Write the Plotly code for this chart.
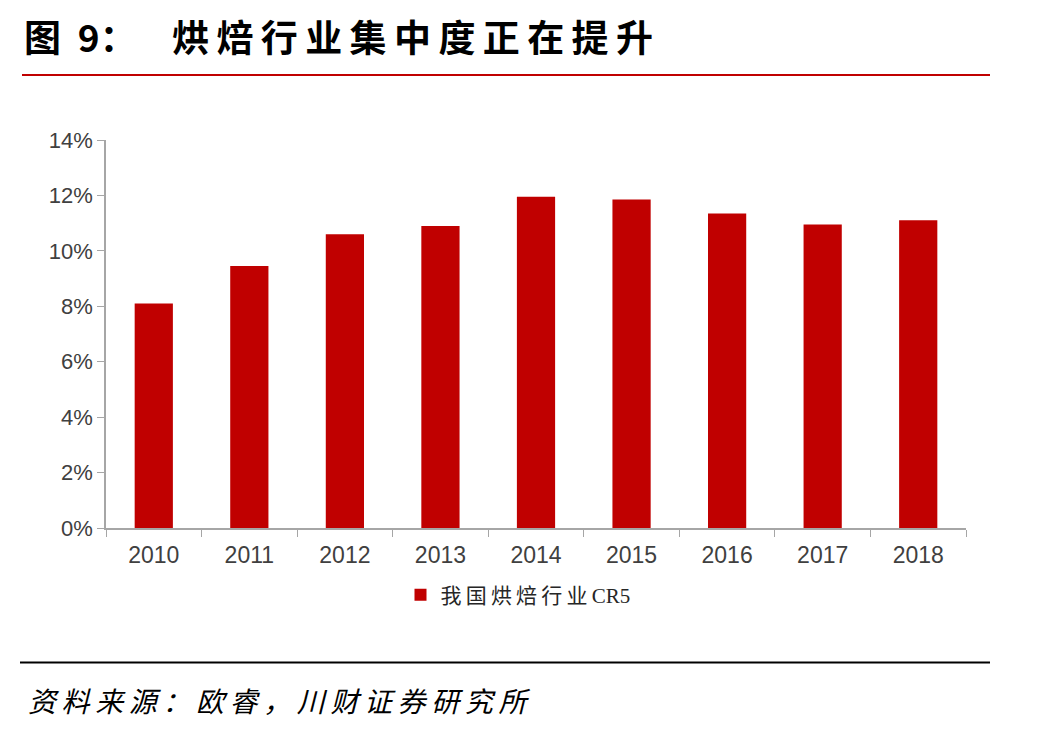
import plotly.graph_objects as go

years = ["2010", "2011", "2012", "2013", "2014", "2015", "2016", "2017", "2018"]
cr5 = [8.1, 9.45, 10.6, 10.9, 11.95, 11.85, 11.35, 10.95, 11.1]
y_ticks = [0, 2, 4, 6, 8, 10, 12, 14]
y_tick_labels = ["0%", "2%", "4%", "6%", "8%", "10%", "12%", "14%"]
series_name = "我国烘焙行业CR5"
title_prefix = "图\u00a0\u00a09："
title_main = "烘焙行业集中度正在提升"
source_text = "资料来源：欧睿，川财证券研究所"

TS = "\u2009"  # thin space used as letter spacing


def spaced(s):
    return TS.join(list(s))


W, H = 1060, 732
L, R, T, B = 106, 966, 140, 527.7

fig = go.Figure()
fig.add_trace(go.Bar(
    x=years, y=cr5, name=spaced("我国烘焙行业") + TS + "CR5",
    marker=dict(color="#c00000", line=dict(width=0)),
    width=0.4,
))

axis_font = dict(family="Liberation Sans Narrow, Liberation Sans, Arial", size=22, color="#404040")


def px_x(x):
    return (x - L) / (R - L)


def px_y(y):
    return (B - y) / (B - T)


fig.update_layout(
    width=W, height=H,
    margin=dict(l=L, r=W - R, t=T, b=H - B, pad=0),
    paper_bgcolor="white", plot_bgcolor="white",
    showlegend=True,
    legend=dict(
        orientation="h", x=px_x(518), xanchor="center", y=-0.12, yanchor="top",
        font=dict(family="Liberation Serif, Noto Sans CJK SC", size=21, color="#262626"),
        itemwidth=30,
    ),
    xaxis=dict(
        type="category", showline=True, linecolor="#a6a6a6", linewidth=1.5,
        ticks="outside", tickson="boundaries", ticklen=7, tickcolor="#a6a6a6",
        tickfont=dict(family="Liberation Sans, Arial", size=23, color="#404040"),
        ticklabelstandoff=6,
        showgrid=False,
    ),
    yaxis=dict(
        range=[0, 14], tickvals=y_ticks, ticktext=y_tick_labels,
        showline=True, linecolor="#a6a6a6", linewidth=1.5,
        ticks="outside", ticklen=7, tickcolor="#a6a6a6",
        tickfont=axis_font, showgrid=False, zeroline=False,
    ),
    shapes=[
        dict(type="line", xref="paper", yref="paper",
             x0=px_x(22), x1=px_x(990), y0=px_y(75), y1=px_y(75),
             line=dict(color="#c00000", width=2)),
        dict(type="line", xref="paper", yref="paper",
             x0=px_x(20), x1=px_x(990), y0=px_y(662), y1=px_y(662),
             line=dict(color="black", width=2)),
    ],
    annotations=[
        dict(text="<b>" + title_prefix + "</b>", xref="paper", yref="paper",
             x=px_x(22), y=px_y(36), xanchor="left", yanchor="middle",
             showarrow=False,
             font=dict(family="Noto Sans CJK SC", size=37, color="black")),
        dict(text="<b>" + spaced(title_main) + "</b>", xref="paper", yref="paper",
             x=px_x(170), y=px_y(36), xanchor="left", yanchor="middle",
             showarrow=False,
             font=dict(family="Noto Sans CJK SC", size=37, color="black")),
        dict(text="<i>" + spaced(source_text) + "</i>", xref="paper", yref="paper",
             x=px_x(26), y=px_y(700), xanchor="left", yanchor="middle",
             showarrow=False,
             font=dict(family="Noto Sans CJK SC", size=28, color="black")),
    ],
)

fig.write_html("out.html")
